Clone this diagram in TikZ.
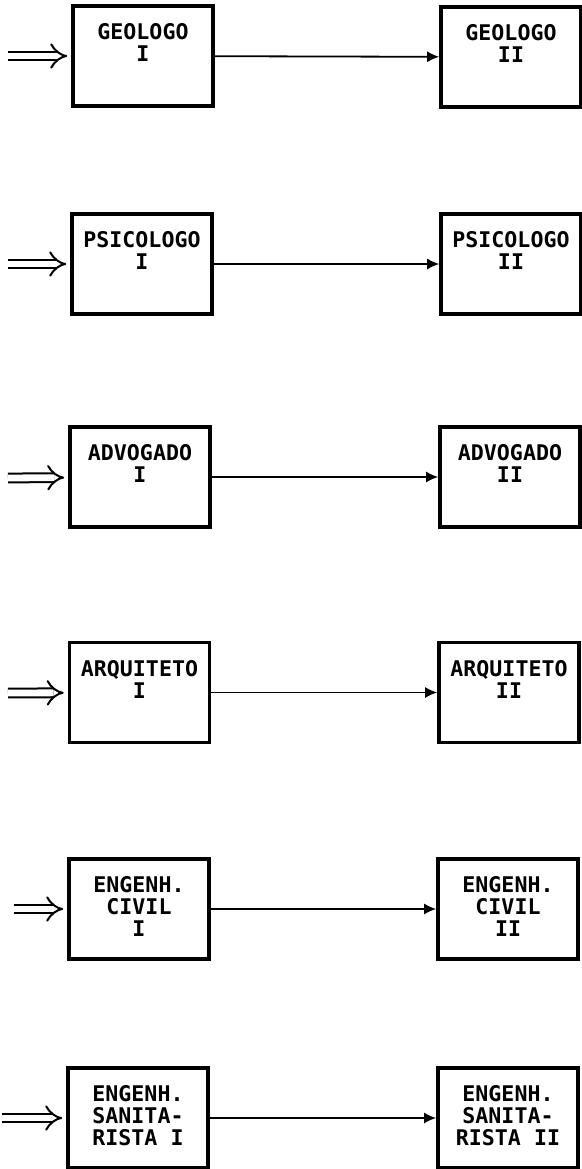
\documentclass[tikz,border=0pt]{standalone}
\usepackage{fontspec}
\setmonofont{DejaVu Sans Mono}
\usetikzlibrary{arrows.meta, positioning}
\tikzstyle{box} = [rectangle, draw, line width=1.8pt, minimum width=70pt, minimum height=50pt, inner sep=0pt]
\tikzstyle{boxtext} = [font=\fontsize{10.8}{11}\selectfont\ttfamily\bfseries, align=center, anchor=north, inner sep=0pt]
\tikzstyle{arrow} = [-{Latex[length=6pt, width=5.5pt]}, line width=0.9pt]
\tikzstyle{inarrow} = [double, line width=1pt, double distance=3.4pt, -{Implies}, shorten >=2pt]

\begin{document}
\begin{tikzpicture}[x=0.5pt, y=-0.5pt, node distance=9.5pt]
    \useasboundingbox (0,0) rectangle (582,1169);

    % Geologo
    \coordinate (geoin) at (8,56);
    \node[box] (geo1) at (143,56) {};
    \node[box] (geo2) at (511,57) {};
    \node[boxtext, below=of geo1.north] (geo1txt) {GEOLOGO\\I};
    \node[boxtext, below=of geo2.north] (geo2txt) {GEOLOGO\\II};

    % Psicologo
    \coordinate (psiin) at (8,264);
    \node[box] (psi1) at (142,264) {};
    \node[box] (psi2) at (511,264) {};
    \node[boxtext, below=of psi1.north] (psi1txt) {PSICOLOGO\\I};
    \node[boxtext, below=of psi2.north] (psi2txt) {PSICOLOGO\\II};

    % Advogado
    \coordinate (advin) at (8,478);
    \node[box] (adv1) at (140,477) {};
    \node[box] (adv2) at (510,477) {};
    \node[boxtext, below=of adv1.north] (adv1txt) {ADVOGADO\\I};
    \node[boxtext, below=of adv2.north] (adv2txt) {ADVOGADO\\II};

    % Arquiteto
    \coordinate (arqin) at (8,693);
    \node[box] (arq1) at (139.5,692.5) {};
    \node[box] (arq2) at (509,692.5) {};
    \node[boxtext, below=of arq1.north] (arq1txt) {ARQUITETO\\I};
    \node[boxtext, below=of arq2.north] (arq2txt) {ARQUITETO\\II};

    % Engenheiro civil
    \coordinate (civin) at (14,909);
    \node[box] (civ1) at (139,909) {};
    \node[box] (civ2) at (508,909) {};
    \node[boxtext, below=of civ1.north] (civ1txt) {ENGENH.\\CIVIL\\I};
    \node[boxtext, below=of civ2.north] (civ2txt) {ENGENH.\\CIVIL\\II};

    % Engenheiro sanitarista
    \coordinate (sanin) at (2,1118);
    \node[box] (san1) at (138,1118) {};
    \node[box] (san2) at (508,1118) {};
    \node[boxtext, below=of san1.north] (san1txt) {ENGENH.\\SANITA-\\RISTA I};
    \node[boxtext, below=of san2.north] (san2txt) {ENGENH.\\SANITA-\\RISTA II};

    \draw[inarrow] (geoin) -- (geo1);
    \draw[inarrow] (psiin) -- (psi1);
    \draw[inarrow] (advin) -- (adv1);
    \draw[inarrow] (arqin) -- (arq1);
    \draw[inarrow] (civin) -- (civ1);
    \draw[inarrow] (sanin) -- (san1);

    \draw[arrow] (geo1) -- (geo2);
    \draw[arrow] (psi1) -- (psi2);
    \draw[arrow] (adv1) -- (adv2);
    \draw[arrow] (arq1) -- (arq2);
    \draw[arrow] (civ1) -- (civ2);
    \draw[arrow] (san1) -- (san2);

\end{tikzpicture}
\end{document}
